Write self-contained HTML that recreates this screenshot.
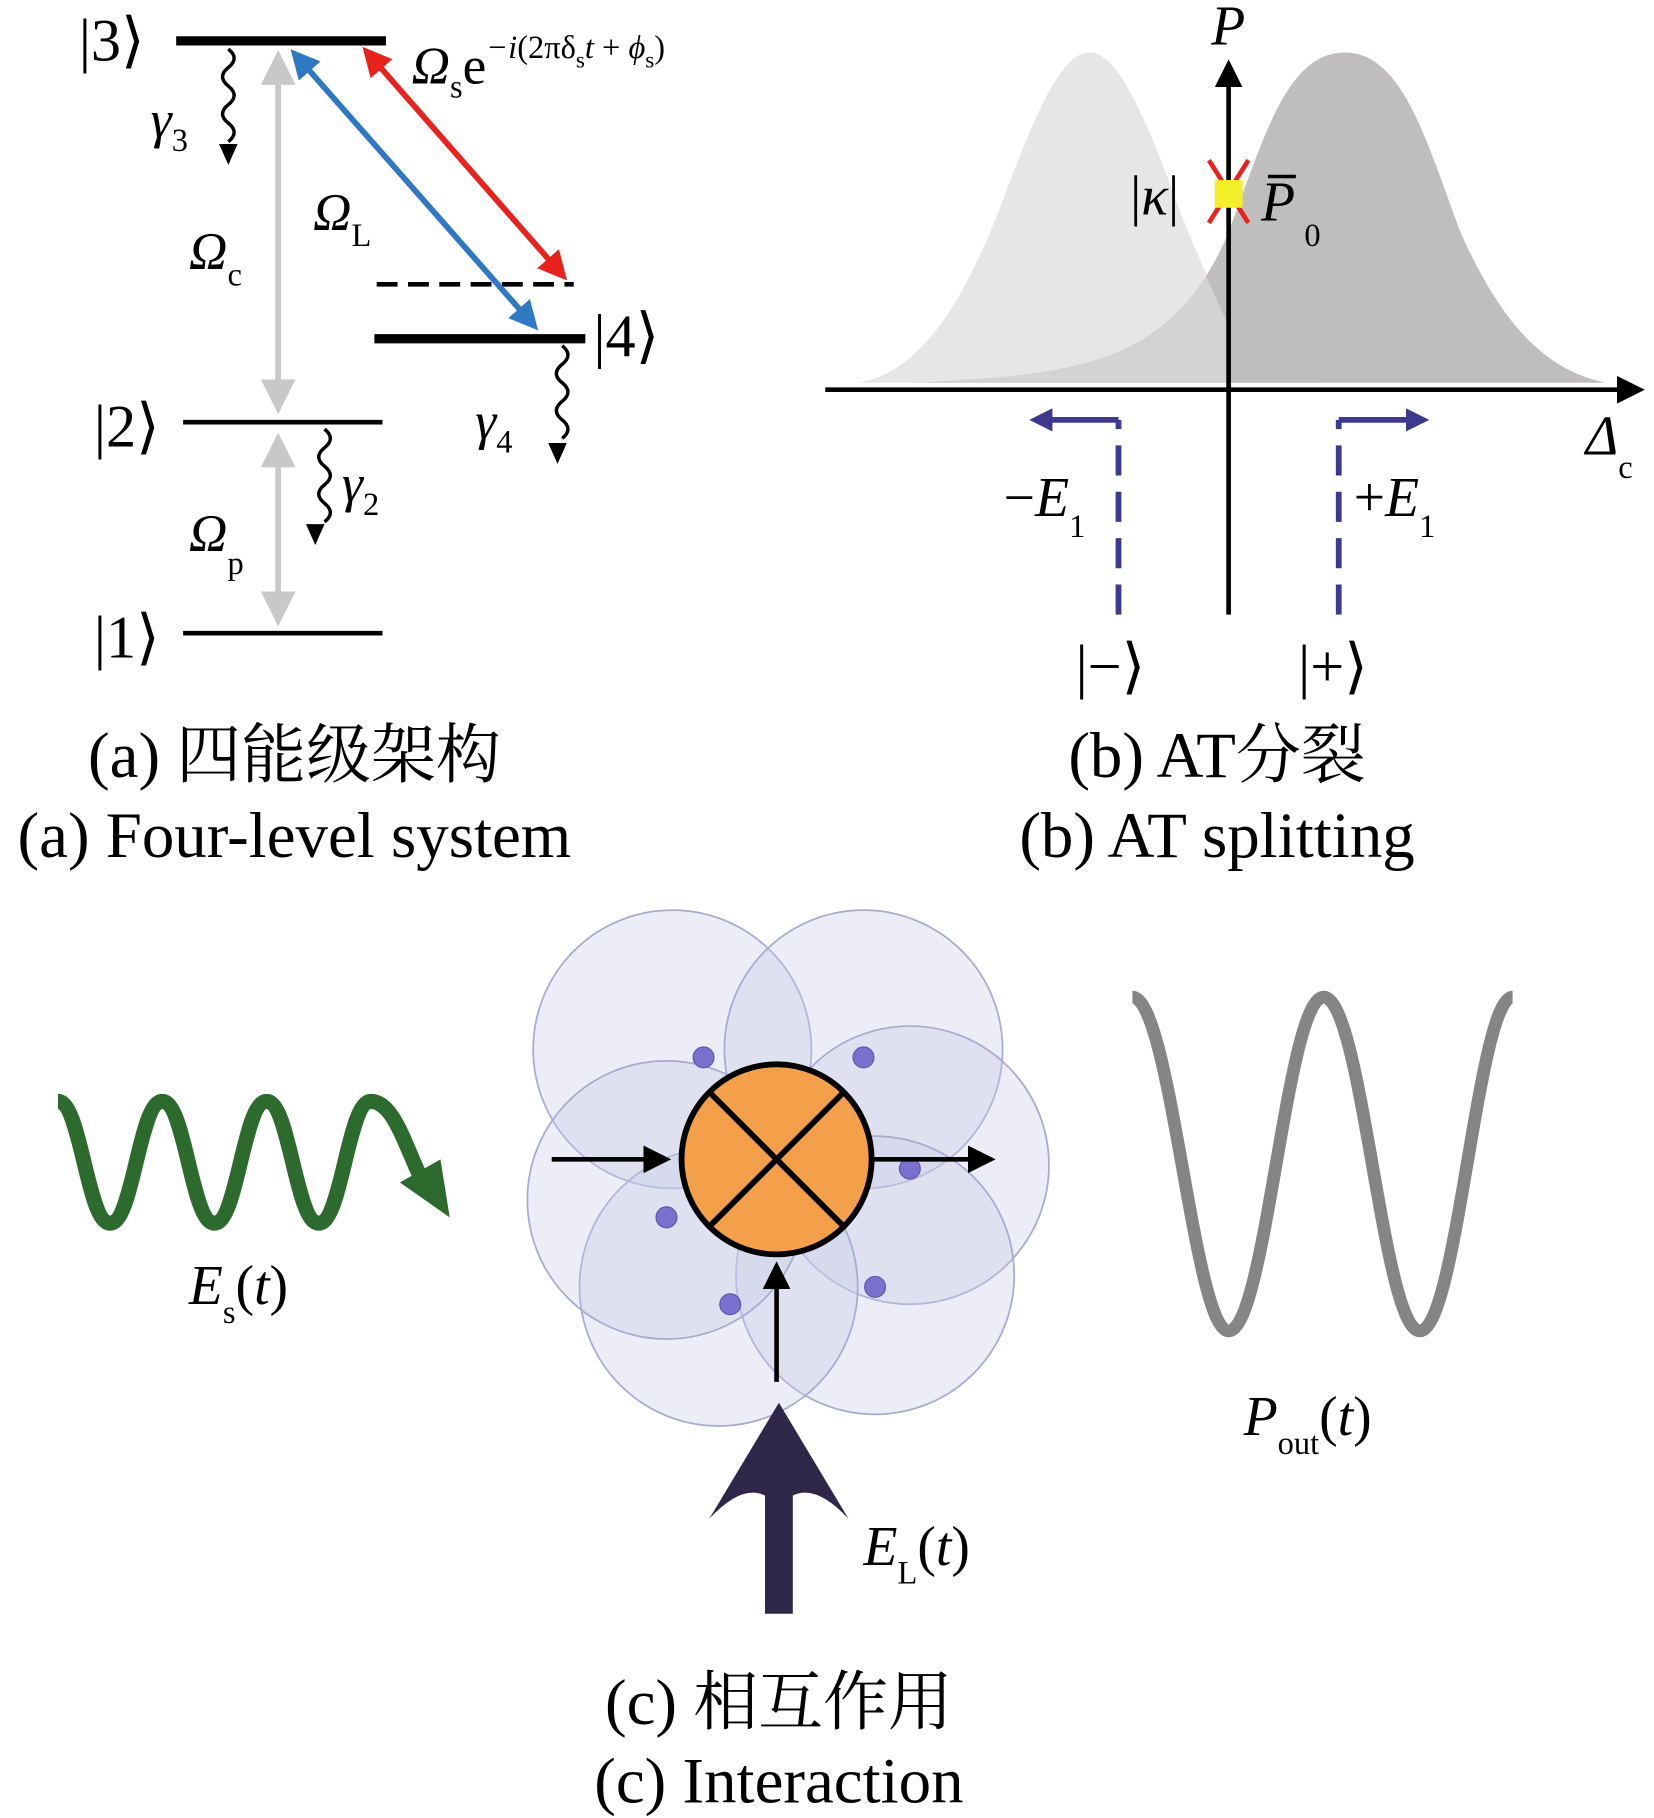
<!DOCTYPE html>
<html><head><meta charset="utf-8"><style>
html,body{margin:0;padding:0;background:#fff}
svg{display:block}
text{font-family:"Liberation Serif","Noto Serif CJK SC",serif}
.it{font-style:italic}
</style></head><body>
<svg width="1654" height="1818" viewBox="0 0 1427 1568" xmlns="http://www.w3.org/2000/svg">
<defs>
<marker id="ag" markerWidth="6" markerHeight="6" refX="5" refY="3" orient="auto-start-reverse" markerUnits="strokeWidth"><path d="M0,0 L6,3 L0,6 z" fill="#c8c8c8"/></marker>
<marker id="ab" markerWidth="5" markerHeight="5" refX="4" refY="2.5" orient="auto-start-reverse" markerUnits="strokeWidth"><path d="M0,0 L5,2.5 L0,5 z" fill="#2f78c4"/></marker>
<marker id="ar" markerWidth="5" markerHeight="5" refX="4" refY="2.5" orient="auto-start-reverse" markerUnits="strokeWidth"><path d="M0,0 L5,2.5 L0,5 z" fill="#e8231e"/></marker>
<marker id="ak" markerWidth="6" markerHeight="6" refX="5" refY="3" orient="auto-start-reverse" markerUnits="strokeWidth"><path d="M0,0 L6,3 L0,6 z" fill="#000"/></marker>
<marker id="au" markerWidth="4" markerHeight="4" refX="3" refY="2" orient="auto-start-reverse" markerUnits="strokeWidth"><path d="M0,0 L4,2 L0,4 z" fill="#3d3a8e"/></marker>
</defs>

<!-- Panel a -->
<g font-size="52">
<text x="68" y="52">|3⟩</text>
<text x="81" y="385">|2⟩</text>
<text x="81" y="567">|1⟩</text>
<text x="512" y="307">|4⟩</text>
</g>
<line x1="152" y1="35" x2="333" y2="35" stroke="#000" stroke-width="8"/>
<line x1="158" y1="364" x2="330" y2="364" stroke="#000" stroke-width="4"/>
<line x1="158" y1="546" x2="330" y2="546" stroke="#000" stroke-width="4"/>
<line x1="323" y1="292" x2="505" y2="292" stroke="#000" stroke-width="8"/>
<line x1="325" y1="245" x2="495" y2="245" stroke="#000" stroke-width="4" stroke-dasharray="18,9"/>
<line x1="240" y1="352" x2="240" y2="48" stroke="#c8c8c8" stroke-width="5" marker-end="url(#ag)" marker-start="url(#ag)"/>
<line x1="240" y1="535" x2="240" y2="378" stroke="#c8c8c8" stroke-width="5" marker-end="url(#ag)" marker-start="url(#ag)"/>
<line x1="254" y1="46" x2="461" y2="281" stroke="#2f78c4" stroke-width="5" marker-start="url(#ab)" marker-end="url(#ab)"/>
<line x1="316" y1="44" x2="486" y2="238" stroke="#e8231e" stroke-width="5" marker-start="url(#ar)" marker-end="url(#ar)"/>
<g fill="none" stroke="#000" stroke-width="3">
<path d="M197,42 q10,8 0,16 q-10,8 0,16 q10,8 0,16 q-10,8 0,16 q10,8 0,16"/>
<path d="M280,370 q10,8 0,16 q-10,8 0,16 q10,8 0,16 q-10,8 0,16 q10,8 0,16"/>
<path d="M485,298 q10,8 0,16 q-10,8 0,16 q10,8 0,16 q-10,8 0,16 q10,8 0,16"/>
</g>
<path d="M189,124 L205,124 L197,142 z"/>
<path d="M264,452 L280,452 L272,470 z"/>
<path d="M473,382 L489,382 L481,400 z"/>
<g font-size="46" class="it">
<text x="130" y="118">γ<tspan font-size="28" dy="12" font-style="normal">3</tspan></text>
<text x="295" y="432">γ<tspan font-size="28" dy="12" font-style="normal">2</tspan></text>
<text x="410" y="378">γ<tspan font-size="28" dy="12" font-style="normal">4</tspan></text>
<text x="163" y="232">Ω<tspan font-size="28" dy="14" font-style="normal">c</tspan></text>
<text x="163" y="475">Ω<tspan font-size="28" dy="20" font-style="normal">p</tspan></text>
<text x="270" y="198">Ω<tspan font-size="28" dy="14" font-style="normal">L</tspan></text>
<text x="355" y="72">Ω<tspan font-size="28" dy="12" font-style="normal">s</tspan><tspan dy="-12" font-style="normal">e</tspan><tspan font-size="28" dy="-22">−i</tspan><tspan font-size="28" font-style="normal">(2πδ</tspan><tspan font-size="20" dy="8" font-style="normal">s</tspan><tspan font-size="28" dy="-8">t</tspan><tspan font-size="28" font-style="normal"> + </tspan><tspan font-size="28">ϕ</tspan><tspan font-size="20" dy="8" font-style="normal">s</tspan><tspan font-size="28" dy="-8" font-style="normal">)</tspan></text>
</g>
<g font-size="56" text-anchor="middle">
<text x="254" y="670">(a) 四能级架构</text>
<text x="254" y="739">(a) Four-level system</text>
</g>

<!-- Panel b -->
<path d="M740,330 C790,322 830,270 870,160 C900,80 920,45 940,45 C960,45 980,80 1010,160 C1050,270 1080,320 1140,330 Z" fill="#e6e6e6"/>
<path d="M790,330 C920,322 1010,320 1060,200 C1090,120 1110,45 1160,45 C1210,45 1230,120 1260,200 C1300,290 1340,320 1385,330 Z" fill="#bfbdbe"/>
<path d="M740,330 C790,322 830,270 870,160 C900,80 920,45 940,45 C960,45 980,80 1010,160 C1030,215 1045,250 1060,280 L1060,330 Z" fill="#e6e6e6" opacity="0.55"/>
<line x1="712" y1="336" x2="1415" y2="336" stroke="#000" stroke-width="4" marker-end="url(#ak)"/>
<line x1="1060" y1="530" x2="1060" y2="55" stroke="#000" stroke-width="4" marker-end="url(#ak)"/>
<line x1="1043" y1="138" x2="1077" y2="192" stroke="#e8231e" stroke-width="4"/>
<line x1="1077" y1="138" x2="1043" y2="192" stroke="#e8231e" stroke-width="4"/>
<rect x="1048" y="155" width="24" height="24" fill="#f5ef2a"/>
<g font-size="48" class="it">
<text x="1045" y="38">P</text>
<text x="975" y="185" font-style="normal">|<tspan font-style="italic">κ</tspan>|</text>
<text x="1088" y="190">P<tspan font-size="28" dy="22" dx="8" font-style="normal">0</tspan></text>
<text x="1368" y="392">Δ<tspan font-size="28" dy="20" font-style="normal">c</tspan></text>
<text x="866" y="445" font-style="normal">−<tspan font-style="italic">E</tspan><tspan font-size="28" dy="18">1</tspan></text>
<text x="1168" y="445" font-style="normal">+<tspan font-style="italic">E</tspan><tspan font-size="28" dy="18">1</tspan></text>
</g>
<line x1="1094" y1="152" x2="1118" y2="152" stroke="#000" stroke-width="3"/>
<g stroke="#3d3a8e" stroke-width="5" fill="none">
<path d="M965,530 L965,362"  stroke-dasharray="26,14"/>
<path d="M965,362 L893,362" marker-end="url(#au)"/>
<path d="M1155,530 L1155,362" stroke-dasharray="26,14"/>
<path d="M1155,362 L1228,362" marker-end="url(#au)"/>
</g>
<g font-size="52">
<text x="928" y="592">|−⟩</text>
<text x="1120" y="592">|+⟩</text>
</g>
<g font-size="56" text-anchor="middle">
<text x="1050" y="670">(b) AT分裂</text>
<text x="1050" y="739">(b) AT splitting</text>
</g>

<!-- Panel c -->
<path d="M50,950 C70,950 75,1055 95,1055 C115,1055 120,950 140,950 C160,950 165,1055 185,1055 C205,1055 210,950 230,950 C250,950 255,1055 275,1055 C295,1055 300,950 320,950 C340,950 350,990 365,1020" fill="none" stroke="#2c6a2e" stroke-width="13"/>
<path d="M345,1020 L388,1050 L380,1000 z" fill="#2c6a2e"/>
<text x="163" y="1125" font-size="48" class="it">E<tspan font-size="28" dy="16" font-style="normal">s</tspan><tspan dy="-16" font-style="normal">(</tspan>t<tspan font-style="normal">)</tspan></text>

<g fill="#c9cbe6" fill-opacity="0.35" stroke="#a8aacf" stroke-width="1.5">
<circle cx="580" cy="905" r="120"/>
<circle cx="745" cy="905" r="120"/>
<circle cx="785" cy="1005" r="120"/>
<circle cx="755" cy="1100" r="120"/>
<circle cx="620" cy="1110" r="120"/>
<circle cx="575" cy="1035" r="120"/>
</g>
<g fill="#7b6fd0" stroke="#5a56a8" stroke-width="1">
<circle cx="607" cy="912" r="9"/><circle cx="745" cy="912" r="9"/>
<circle cx="785" cy="1008" r="9"/><circle cx="575" cy="1050" r="9"/>
<circle cx="755" cy="1110" r="9"/><circle cx="630" cy="1125" r="9"/>
</g>
<circle cx="670" cy="1000" r="82" fill="#f4a04a" stroke="#000" stroke-width="5"/>
<line x1="612" y1="942" x2="728" y2="1058" stroke="#000" stroke-width="5"/>
<line x1="728" y1="942" x2="612" y2="1058" stroke="#000" stroke-width="5"/>
<line x1="476" y1="1000" x2="575" y2="1000" stroke="#000" stroke-width="4" marker-end="url(#ak)"/>
<line x1="752" y1="1000" x2="855" y2="1000" stroke="#000" stroke-width="4" marker-end="url(#ak)"/>
<line x1="670" y1="1192" x2="670" y2="1092" stroke="#000" stroke-width="4" marker-end="url(#ak)"/>
<path d="M660,1392 L660,1290 Q640,1280 612,1310 L672,1210 L732,1310 Q704,1280 684,1290 L684,1392 Z" fill="#2f2749"/>
<text x="745" y="1350" font-size="48" class="it">E<tspan font-size="28" dy="16" font-style="normal">L</tspan><tspan dy="-16" font-style="normal">(</tspan>t<tspan font-style="normal">)</tspan></text>

<path d="M977,860 C1010,860 1030,1148 1060,1148 C1092,1148 1110,860 1142,860 C1175,860 1193,1148 1225,1148 C1257,1148 1275,860 1305,860" fill="none" stroke="#858585" stroke-width="11"/>
<text x="1073" y="1238" font-size="48" class="it">P<tspan font-size="28" dy="16" font-style="normal">out</tspan><tspan dy="-16" font-style="normal">(</tspan>t<tspan font-style="normal">)</tspan></text>

<g font-size="56" text-anchor="middle">
<text x="672" y="1487">(c) 相互作用</text>
<text x="672" y="1555">(c) Interaction</text>
</g>
</svg>
</body></html>
